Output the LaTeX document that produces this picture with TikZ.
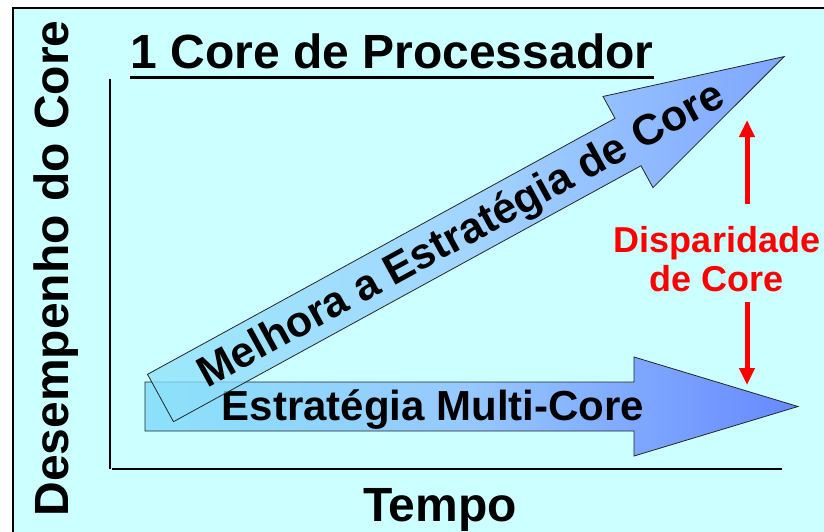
\documentclass[tikz,border=0pt]{standalone}
\usepackage{fontspec}
\setmainfont{Liberation Sans}
\usetikzlibrary{arrows.meta}
\definecolor{slidebg}{RGB}{204,255,255}
\definecolor{arrowlight}{RGB}{140,226,250}
\definecolor{arrowmid}{RGB}{150,200,255}
\definecolor{arrowdark}{RGB}{102,136,255}
\newcommand{\slidefont}[2]{\fontsize{#1}{#2}\selectfont\bfseries}

\begin{document}
\begin{tikzpicture}[x=1pt,y=-1pt,
  bigarrow/.style={draw=black!85, line width=0.8pt, left color=arrowlight, right color=arrowdark, middle color=arrowmid},
  gaparrow/.style={red, line width=5pt, -{Triangle[length=17pt,width=15pt]}},
  slidetext/.style={inner sep=0pt, anchor=base}]
  \useasboundingbox (0,0) rectangle (824,531);
  \clip (0,0) rectangle (824,531);
  % slide frame
  \draw[line width=2pt, fill=slidebg] (13,8) rectangle (840,545);
  % axes
  \coordinate (ytop) at (110,79);
  \coordinate (origin) at (110,469);
  \coordinate (xstart) at (112,469);
  \coordinate (xend) at (782,469);
  \draw[line width=1.5pt] (ytop) -- (origin);
  \draw[line width=2pt] (xstart) -- (xend);
  \node[slidetext, font={\slidefont{48}{50}}] (title) at (392,68) {1 Core de Processador};
  \draw[line width=3pt] ([yshift=-9pt]title.base west) -- ([yshift=-9pt]title.base east);
  \node[slidetext, font={\slidefont{48}{50}}, rotate=90] (perf) at (68,268.5) {Desempenho do Core};
  \node[slidetext, font={\slidefont{48}{50}}] (time) at (440,521) {Tempo};
  % Bottom: multi-core arrow
  \draw[bigarrow] (145,382) -- (634,382) -- (634,357) -- (798,406.5) -- (634,456) -- (634,431) -- (145,431) -- cycle;
  \node[slidetext, font={\slidefont{42}{44}}] (multi) at (433,420) {Estratégia Multi-Core};
  % Diagonal: single core arrow
  \begin{scope}[shift={(160.5,398)}, rotate=28.7]
    \draw[bigarrow, fill opacity=0.75] (0,-27) -- (533,-27) -- (533,-52) -- (711,0) -- (533,52) -- (533,27) -- (0,27) -- cycle;
    \node[slidetext, font={\slidefont{43}{45}}, transform shape] (better) at (342,14) {Melhora a Estratégia de Core};
  \end{scope}
  % gap between the two
  \node[inner sep=0pt, text=red, align=center, font={\slidefont{36}{39}}] (gap) at (717,259) {Disparidade\\de Core};
  \coordinate (gaptop) at (747,120);
  \coordinate (gapbot) at (747,385);
  \draw[gaparrow, shorten <=22pt] (gap.north -| gaptop) -- (gaptop);
  \draw[gaparrow, shorten <=10pt] (gap.south -| gapbot) -- (gapbot);
\end{tikzpicture}
\end{document}
